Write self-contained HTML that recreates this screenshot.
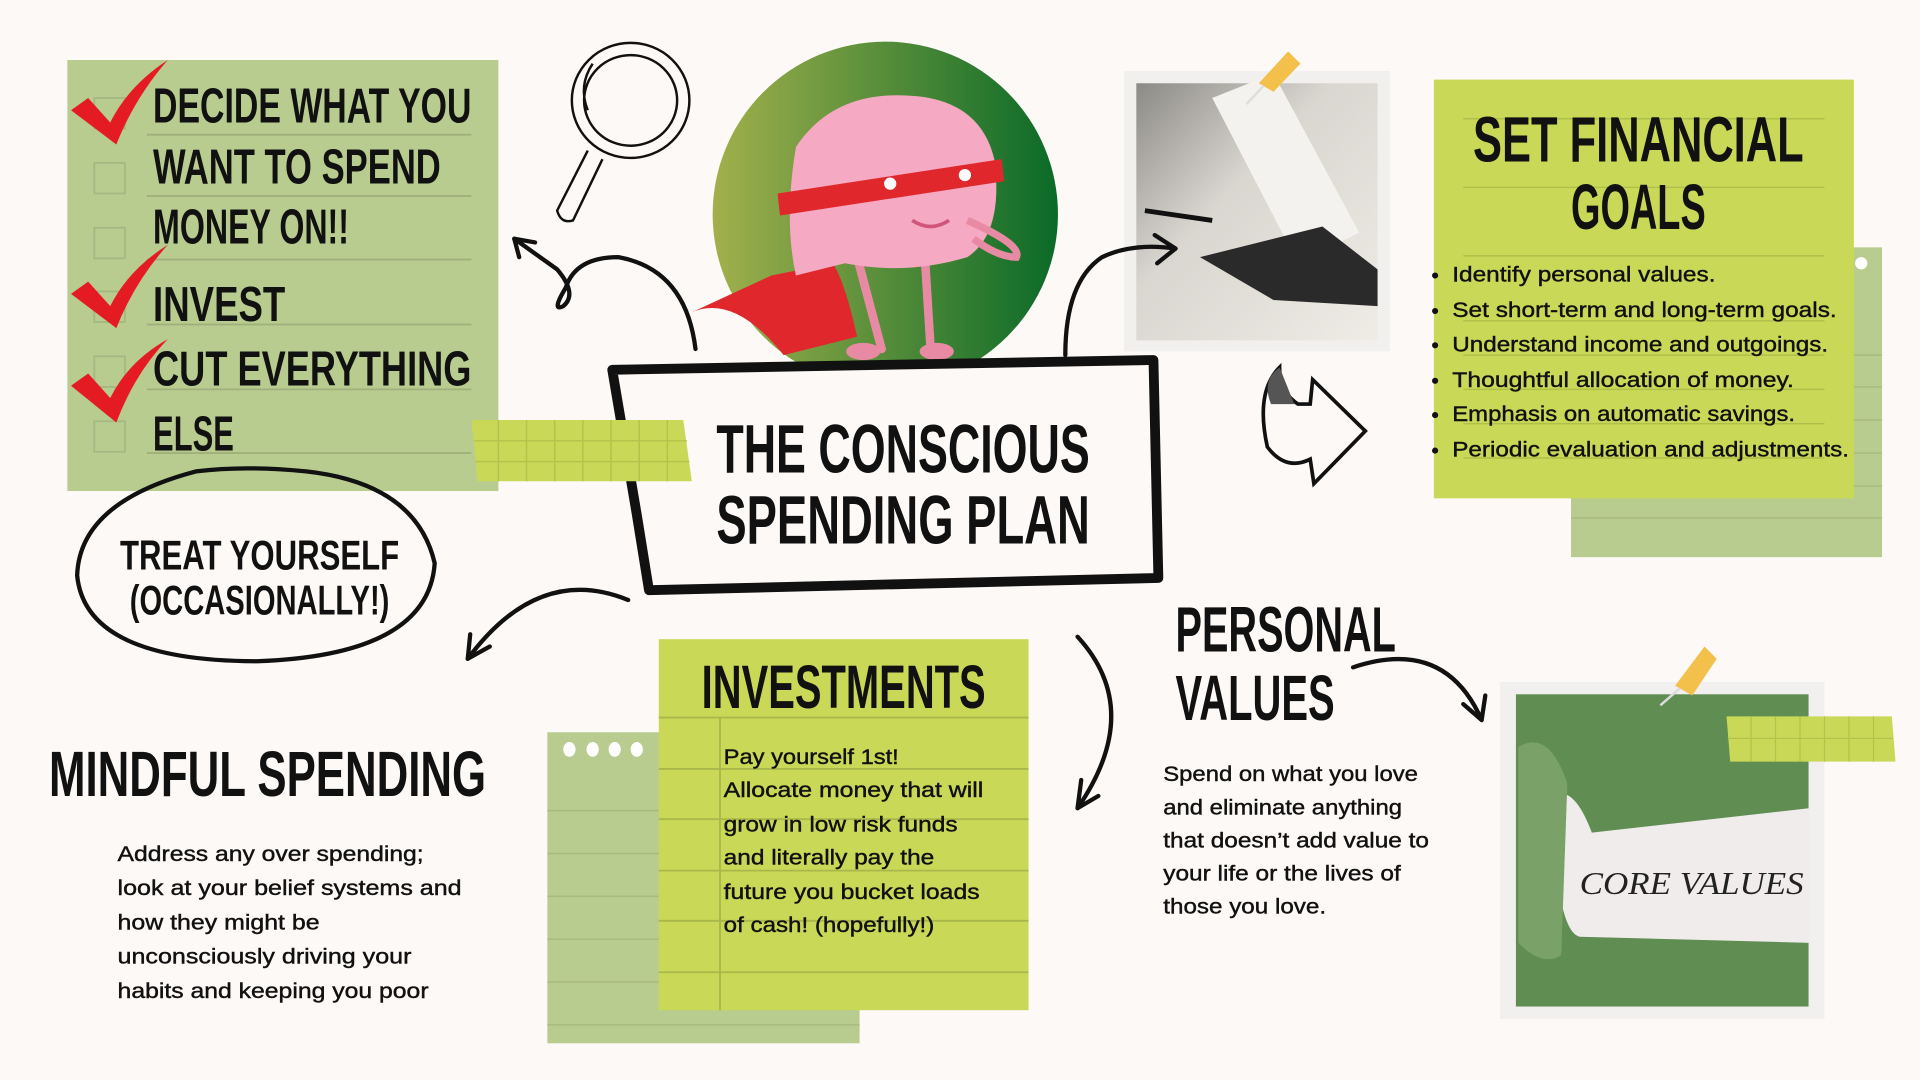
<!DOCTYPE html>
<html><head><meta charset="utf-8"><style>
html,body{margin:0;padding:0;background:#fdf9f6;width:1920px;height:1080px;overflow:hidden}
svg{display:block}
.h{font-family:"Liberation Sans",sans-serif;font-weight:bold;fill:#111}
.b{font-family:"Liberation Sans",sans-serif;font-size:17.5px;fill:#111;stroke:#111;stroke-width:0.35}
</style></head><body>
<svg width="1920" height="1080" viewBox="0 0 1568 882" xmlns="http://www.w3.org/2000/svg">
<defs>
<linearGradient id="cg" x1="0" x2="1" y1="0" y2="0"><stop offset="0" stop-color="#a2b04c"/><stop offset="1" stop-color="#0a6a28"/></linearGradient>
<linearGradient id="ph" x1="0" x2="1" y1="0" y2="1"><stop offset="0" stop-color="#8c8a86"/><stop offset=".4" stop-color="#d9d6d0"/><stop offset="1" stop-color="#efece6"/></linearGradient>
</defs>
<rect width="1568" height="882" fill="#fdf9f6"/>

<!-- checklist -->
<rect x="55" y="49" width="352" height="352" fill="#b8cc8f"/>
<g stroke="#9fb07a" stroke-width="1.5">
<line x1="120" y1="110" x2="385" y2="110"/><line x1="120" y1="160" x2="385" y2="160"/><line x1="120" y1="212" x2="385" y2="212"/><line x1="120" y1="265" x2="385" y2="265"/><line x1="120" y1="318" x2="385" y2="318"/><line x1="120" y1="370" x2="385" y2="370"/></g>
<g fill="none" stroke="#a5b882" stroke-width="1.5">
<rect x="77" y="80" width="25" height="25"/><rect x="77" y="133" width="25" height="25"/><rect x="77" y="186" width="25" height="25"/><rect x="77" y="238" width="25" height="25"/><rect x="77" y="291" width="25" height="25"/><rect x="77" y="344" width="25" height="25"/></g>
<g class="h" font-size="40">
<text x="125" y="100" textLength="260" lengthAdjust="spacingAndGlyphs">DECIDE WHAT YOU</text>
<text x="125" y="150" textLength="235" lengthAdjust="spacingAndGlyphs">WANT TO SPEND</text>
<text x="125" y="199" textLength="160" lengthAdjust="spacingAndGlyphs">MONEY ON!!</text>
<text x="125" y="262" textLength="108" lengthAdjust="spacingAndGlyphs">INVEST</text>
<text x="125" y="315" textLength="260" lengthAdjust="spacingAndGlyphs">CUT EVERYTHING</text>
<text x="125" y="368" textLength="66" lengthAdjust="spacingAndGlyphs">ELSE</text></g>
<g fill="#e51b24">
<path d="M58,90 L72,80 L90,100 Q105,70 137,49 Q110,80 95,118 Z"/>
<path d="M58,240 L72,230 L90,250 Q105,220 137,200 Q110,230 95,268 Z"/>
<path d="M58,315 L72,305 L90,325 Q105,295 137,277 Q110,305 95,345 Z"/></g>

<!-- magnifier -->
<g fill="none" stroke="#111" stroke-width="2">
<ellipse cx="515" cy="82" rx="48" ry="47"/><ellipse cx="515" cy="82" rx="38" ry="37"/>
<path d="M480,123 L455,172 Q458,183 468,180 L492,130"/><path d="M484,52 Q472,70 480,90"/></g>

<!-- circle + brain -->
<ellipse cx="723" cy="175" rx="141" ry="141" fill="url(#cg)"/>
<path d="M630,225 L565,255 Q600,240 640,290 L700,275 Q690,230 680,215 Z" fill="#e0282c"/>
<path d="M700,210 L720,285 M755,205 L760,285" stroke="#e88aa4" stroke-width="7" stroke-linecap="round"/>
<ellipse cx="705" cy="287" rx="14" ry="7" fill="#e88aa4"/><ellipse cx="765" cy="287" rx="14" ry="7" fill="#e88aa4"/>
<path d="M650,225 Q640,180 650,120 Q680,75 740,78 Q800,80 812,130 Q820,190 790,210 Q740,225 690,215 Z" fill="#f5a9c2"/>
<path d="M790,180 Q835,200 830,210 Q815,210 795,195" stroke="#e88aa4" stroke-width="6" fill="none"/>
<path d="M635,158 L818,130 L820,148 L637,176 Z" fill="#e0282c"/>
<circle cx="727" cy="150" r="5" fill="#fff"/><circle cx="788" cy="143" r="5" fill="#fff"/>
<path d="M745,180 Q760,190 775,180" stroke="#d0557a" stroke-width="3" fill="none"/>

<!-- photo calc -->
<rect x="918" y="58" width="217" height="229" fill="#f2f0ee"/>
<rect x="928" y="68" width="197" height="210" fill="url(#ph)"/>
<path d="M990,80 L1040,60 L1110,190 L1060,215 Z" fill="#f3f2ef"/>
<path d="M980,210 L1080,185 L1125,220 L1125,250 L1040,245 Z" fill="#2a2a2a"/>
<path d="M935,172 L990,180" stroke="#111" stroke-width="4"/>
<path d="M1052,42 L1062,52 L1040,75 L1028,68 Z" fill="#f4c04c"/>
<line x1="1032" y1="70" x2="1018" y2="85" stroke="#ddd" stroke-width="2"/>

<!-- central box -->
<path d="M500,302 L942,294 L946,472 L530,482 L520,420 Z" fill="#fdf9f6" stroke="#111" stroke-width="8" stroke-linejoin="round"/>
<polygon points="385,343 558,343 565,393 390,393" fill="#c9d957"/>
<g stroke="#b3c24a" stroke-width="1.2">
<line x1="387" y1="360" x2="561" y2="360"/><line x1="388" y1="377" x2="563" y2="377"/>
<line x1="407" y1="343" x2="407" y2="393"/><line x1="430" y1="343" x2="430" y2="393"/><line x1="453" y1="343" x2="453" y2="393"/><line x1="476" y1="343" x2="476" y2="393"/><line x1="499" y1="343" x2="499" y2="393"/><line x1="522" y1="343" x2="522" y2="393"/><line x1="545" y1="343" x2="545" y2="393"/></g>
<g class="h" font-size="56">
<text x="585" y="386" textLength="305" lengthAdjust="spacingAndGlyphs">THE CONSCIOUS</text>
<text x="585" y="444" textLength="305" lengthAdjust="spacingAndGlyphs">SPENDING PLAN</text></g>

<!-- treat yourself -->
<path d="M250,385 Q340,395 355,460 Q350,535 210,540 Q70,540 63,470 Q65,410 160,385 Q200,380 250,385" fill="none" stroke="#111" stroke-width="3.5"/>
<g class="h" font-size="34">
<text x="98" y="465" textLength="228" lengthAdjust="spacingAndGlyphs">TREAT YOURSELF</text>
<text x="106" y="502" textLength="212" lengthAdjust="spacingAndGlyphs">(OCCASIONALLY!)</text></g>

<!-- arrows -->
<g fill="none" stroke="#111" stroke-width="3.5" stroke-linecap="round">
<path d="M568,285 Q560,220 505,210 Q470,210 462,235 Q450,255 460,250 Q472,240 455,220 L420,195"/>
<path d="M420,195 L437,198 M420,195 L424,210"/>
<path d="M870,290 Q870,230 900,210 Q925,198 960,203"/><path d="M960,203 L943,192 M960,203 L945,215"/>
<path d="M513,490 Q440,460 382,538"/><path d="M382,538 L384,518 M382,538 L400,528"/>
<path d="M880,520 Q935,580 880,660"/><path d="M880,660 L883,637 M880,660 L897,650"/>
<path d="M1105,545 Q1180,520 1210,588"/><path d="M1210,588 L1195,575 M1210,588 L1213,568"/>
<path d="M1045,300 Q1025,320 1035,365 Q1050,385 1070,375 L1073,395 L1115,352 L1072,310 L1070,330 L1060,330 Q1045,320 1045,300 Z" stroke-width="3"/>
</g>
<path d="M1045,300 Q1030,310 1038,330 L1057,330 Z" fill="#555"/>

<!-- set financial goals -->
<rect x="1283" y="202" width="254" height="253" fill="#b8cc8f"/>
<g stroke="#a7ba7f" stroke-width="1.2"><line x1="1283" y1="290" x2="1537" y2="290"/><line x1="1283" y1="316" x2="1537" y2="316"/><line x1="1283" y1="343" x2="1537" y2="343"/><line x1="1283" y1="370" x2="1537" y2="370"/><line x1="1283" y1="397" x2="1537" y2="397"/><line x1="1283" y1="423" x2="1537" y2="423"/></g>
<circle cx="1520" cy="215" r="5" fill="#fff"/>
<rect x="1171" y="65" width="343" height="342" fill="#c9d957"/>
<g stroke="#b0bf4a" stroke-width="1.2"><line x1="1195" y1="97" x2="1490" y2="97"/><line x1="1195" y1="153" x2="1490" y2="153"/><line x1="1195" y1="209" x2="1490" y2="209"/><line x1="1195" y1="262" x2="1490" y2="262"/><line x1="1195" y1="290" x2="1490" y2="290"/><line x1="1195" y1="318" x2="1490" y2="318"/><line x1="1195" y1="346" x2="1490" y2="346"/><line x1="1195" y1="374" x2="1490" y2="374"/></g>
<g class="h" font-size="52">
<text x="1203" y="132" textLength="270" lengthAdjust="spacingAndGlyphs">SET FINANCIAL</text>
<text x="1283" y="187" textLength="110" lengthAdjust="spacingAndGlyphs">GOALS</text></g>
<g class="b">
<text x="1186" y="230" textLength="215" lengthAdjust="spacingAndGlyphs">Identify personal values.</text>
<text x="1186" y="259" textLength="314" lengthAdjust="spacingAndGlyphs">Set short-term and long-term goals.</text>
<text x="1186" y="287" textLength="307" lengthAdjust="spacingAndGlyphs">Understand income and outgoings.</text>
<text x="1186" y="316" textLength="279" lengthAdjust="spacingAndGlyphs">Thoughtful allocation of money.</text>
<text x="1186" y="344" textLength="280" lengthAdjust="spacingAndGlyphs">Emphasis on automatic savings.</text>
<text x="1186" y="373" textLength="324" lengthAdjust="spacingAndGlyphs">Periodic evaluation and adjustments.</text></g>
<g fill="#111"><circle cx="1172" cy="225" r="2.5"/><circle cx="1172" cy="254" r="2.5"/><circle cx="1172" cy="282" r="2.5"/><circle cx="1172" cy="311" r="2.5"/><circle cx="1172" cy="339" r="2.5"/><circle cx="1172" cy="368" r="2.5"/></g>

<!-- personal values -->
<g class="h" font-size="52">
<text x="960" y="532" textLength="180" lengthAdjust="spacingAndGlyphs">PERSONAL</text>
<text x="960" y="588" textLength="130" lengthAdjust="spacingAndGlyphs">VALUES</text></g>
<g class="b">
<text x="950" y="638" textLength="208" lengthAdjust="spacingAndGlyphs">Spend on what you love</text>
<text x="950" y="665" textLength="195" lengthAdjust="spacingAndGlyphs">and eliminate anything</text>
<text x="950" y="692" textLength="217" lengthAdjust="spacingAndGlyphs">that doesn’t add value to</text>
<text x="950" y="719" textLength="194" lengthAdjust="spacingAndGlyphs">your life or the lives of</text>
<text x="950" y="746" textLength="133" lengthAdjust="spacingAndGlyphs">those you love.</text></g>

<!-- core values photo -->
<rect x="1225" y="557" width="265" height="275" fill="#f2f0ee"/>
<rect x="1238" y="567" width="239" height="255" fill="#5f8d52"/>
<path d="M1268,650 Q1285,640 1300,680 L1478,660 L1478,770 L1290,765 Q1270,760 1268,650 Z" fill="#f1ecec"/>
<path d="M1240,610 Q1265,595 1280,640 L1275,780 Q1260,790 1240,770 Z" fill="#7aa268"/>
<text x="1290" y="730" font-family="Liberation Serif,serif" font-style="italic" font-size="26" fill="#222" textLength="183" lengthAdjust="spacingAndGlyphs">CORE VALUES</text>
<polygon points="1410,585 1545,585 1548,622 1413,622" fill="#c9d957"/>
<g stroke="#b3c24a" stroke-width="1"><line x1="1411" y1="603" x2="1546" y2="603"/><line x1="1430" y1="585" x2="1430" y2="622"/><line x1="1450" y1="585" x2="1450" y2="622"/><line x1="1470" y1="585" x2="1470" y2="622"/><line x1="1490" y1="585" x2="1490" y2="622"/><line x1="1510" y1="585" x2="1510" y2="622"/><line x1="1530" y1="585" x2="1530" y2="622"/></g>
<path d="M1392,528 L1402,538 L1382,568 L1368,560 Z" fill="#f4c04c"/>
<line x1="1372" y1="562" x2="1356" y2="576" stroke="#ddd" stroke-width="2"/>

<!-- investments -->
<rect x="447" y="598" width="255" height="254" fill="#b8cc8f"/>
<g stroke="#a7ba7f" stroke-width="1.2"><line x1="447" y1="662" x2="702" y2="662"/><line x1="447" y1="697" x2="702" y2="697"/><line x1="447" y1="732" x2="702" y2="732"/><line x1="447" y1="767" x2="702" y2="767"/><line x1="447" y1="802" x2="702" y2="802"/><line x1="447" y1="837" x2="702" y2="837"/></g>
<g fill="#fff"><ellipse cx="465" cy="612" rx="5" ry="6"/><ellipse cx="484" cy="612" rx="5" ry="6"/><ellipse cx="502" cy="612" rx="5" ry="6"/><ellipse cx="520" cy="612" rx="5" ry="6"/></g>
<rect x="538" y="522" width="302" height="303" fill="#c9d957"/>
<g stroke="#a9b84a" stroke-width="1.5"><line x1="538" y1="586" x2="840" y2="586"/><line x1="538" y1="628" x2="840" y2="628"/><line x1="538" y1="669" x2="840" y2="669"/><line x1="538" y1="711" x2="840" y2="711"/><line x1="538" y1="752" x2="840" y2="752"/><line x1="538" y1="794" x2="840" y2="794"/><line x1="588" y1="586" x2="588" y2="825"/></g>
<text class="h" x="573" y="578" font-size="50" textLength="232" lengthAdjust="spacingAndGlyphs">INVESTMENTS</text>
<g class="b">
<text x="591" y="624" textLength="143" lengthAdjust="spacingAndGlyphs">Pay yourself 1st!</text>
<text x="591" y="651" textLength="212" lengthAdjust="spacingAndGlyphs">Allocate money that will</text>
<text x="591" y="679" textLength="191" lengthAdjust="spacingAndGlyphs">grow in low risk funds</text>
<text x="591" y="706" textLength="172" lengthAdjust="spacingAndGlyphs">and literally pay the</text>
<text x="591" y="734" textLength="209" lengthAdjust="spacingAndGlyphs">future you bucket loads</text>
<text x="591" y="761" textLength="172" lengthAdjust="spacingAndGlyphs">of cash! (hopefully!)</text></g>

<!-- mindful spending -->
<text class="h" x="40" y="650" font-size="52" textLength="357" lengthAdjust="spacingAndGlyphs">MINDFUL SPENDING</text>
<g class="b">
<text x="96" y="703" textLength="250" lengthAdjust="spacingAndGlyphs">Address any over spending;</text>
<text x="96" y="731" textLength="281" lengthAdjust="spacingAndGlyphs">look at your belief systems and</text>
<text x="96" y="759" textLength="165" lengthAdjust="spacingAndGlyphs">how they might be</text>
<text x="96" y="787" textLength="240" lengthAdjust="spacingAndGlyphs">unconsciously driving your</text>
<text x="96" y="815" textLength="254" lengthAdjust="spacingAndGlyphs">habits and keeping you poor</text></g>
</svg>
</body></html>
